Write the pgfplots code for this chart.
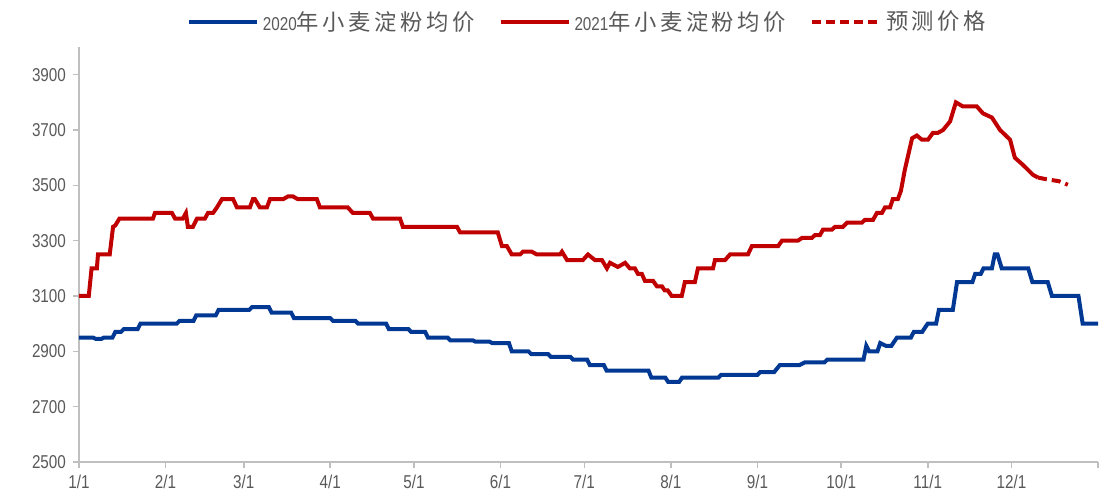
\documentclass[border=0pt]{standalone}
\usepackage{fontspec}
\setmainfont{Liberation Sans}[FakeStretch=0.82]
\newfontfamily\cjk{Noto Sans CJK SC}[Scale=1.2, LetterSpace=16]
\usepackage{pgfplots}
\pgfplotsset{compat=1.18}
\definecolor{line20}{RGB}{0,56,147}
\definecolor{line21}{RGB}{192,0,0}
\definecolor{txt}{RGB}{89,89,89}
\definecolor{axgray}{RGB}{191,191,191}

\begin{document}
\begin{tikzpicture}
\useasboundingbox (-39.5pt,-18pt) rectangle (511pt,231pt);
\begin{axis}[
    scale only axis, width=509.5pt, height=207.5pt,
    xmin=0, xmax=365, ymin=2500, ymax=4000,
    axis x line*=bottom, axis y line*=left,
    axis line style={axgray, line width=0.8pt},
    tick align=outside, major tick length=3pt,
    tick style={axgray, line width=0.8pt},
    xtick={0,31,59,90,120,151,181,212,243,273,304,334,365},
    xticklabels={1/1,2/1,3/1,4/1,5/1,6/1,7/1,8/1,9/1,10/1,11/1,12/1,},
    ytick={2500,2700,2900,3100,3300,3500,3700,3900},
    /pgf/number format/assume math mode=true,
    /pgf/number format/1000 sep={},
    ticklabel style={font=\fontsize{9.3}{10}\selectfont, text=txt},
    legend columns=3,
    legend style={at={(0.5,1.06)}, anchor=center, draw=none, fill=none,
        font=\fontsize{9.3}{10}\selectfont, text=txt,
        /tikz/every even column/.append style={column sep=10pt}},
    legend image code/.code={\draw[#1, line width=2pt] (0pt,0pt) -- (34pt,0pt);},
]
% 2020
\addplot[line20, line width=2pt] coordinates {
(0,2950) (5,2950) (6,2945) (8,2945) (9,2950) (12,2950) (13,2970) (15,2970)
(16,2980) (21,2980) (22,3000) (35,3000) (36,3010) (41,3010) (42,3030) (49,3030)
(50,3050) (61,3050) (62,3060) (68,3060) (69,3040) (76,3040) (77,3020) (90,3020)
(91,3010) (99,3010) (100,3000) (110,3000) (111,2980) (118,2980) (119,2970) (124,2970)
(125,2950) (132,2950) (133,2940) (141,2940) (142,2935) (147,2935) (148,2930) (154,2930)
(155,2900) (161,2900) (162,2890) (168,2890) (169,2880) (176,2880) (177,2870) (182,2870)
(183,2850) (188,2850) (189,2830) (204,2830) (205,2805) (210,2805) (211,2790) (215,2790)
(216,2805) (229,2805) (230,2815) (243,2815) (244,2825) (249,2825) (251,2850) (258,2850)
(260,2860) (267,2860) (268,2870) (281,2870) (282,2920) (283,2900) (286,2900) (287,2930)
(289,2920) (291,2920) (293,2950) (298,2950) (299,2970) (302,2970) (304,3000) (307,3000)
(308,3050) (313,3050) (314.5,3150) (320,3150) (321,3180) (323,3180) (324,3200) (327,3200)
(328,3250) (329,3250) (330.5,3200) (340,3200) (341.5,3150) (347,3150) (348.5,3100) (358,3100)
(359.5,3000) (365,3000)
};
\addlegendentry{2020{\cjk 年小麦淀粉均价}}
% 2021
\addplot[line21, line width=2pt] coordinates {
(0,3100) (3.5,3100) (4.5,3200) (6.4,3200) (6.8,3250) (11,3250) (12.2,3350) (13,3355)
(14.5,3380) (26.5,3380) (27.2,3400) (33.3,3400) (34.4,3380) (37.2,3380) (38.3,3400) (39,3350)
(40.8,3350) (42.3,3380) (45.1,3380) (46.2,3400) (48,3400) (49.4,3420) (51.2,3450) (55.2,3450)
(56.6,3420) (61.2,3420) (62.3,3450) (63,3450) (64.8,3420) (67.3,3420) (68.4,3450) (73.1,3450)
(74.9,3460) (76.6,3460) (78.4,3450) (85.2,3450) (86.3,3420) (96.3,3420) (98.1,3400) (104.2,3400)
(105.3,3380) (115,3380) (116,3350) (135.4,3350) (136.5,3330) (150,3330) (151.5,3280) (153.3,3280)
(155,3250) (158,3250) (159,3260) (162.2,3260) (164,3250) (172.3,3250) (173,3260) (174.8,3230)
(180.5,3230) (182.3,3250) (184.8,3230) (187.3,3230) (189.1,3200) (190.2,3220) (193,3205) (195.6,3220)
(197.3,3200) (199.1,3200) (200.2,3180) (201.6,3180) (202.7,3155) (205.6,3155) (207,3135) (208.8,3135)
(209.8,3120) (210.9,3120) (212.3,3100) (215.9,3100) (217,3150) (220.6,3150) (221.7,3200) (227.1,3200)
(227.8,3230) (231.4,3230) (233.2,3250) (239.6,3250) (241,3280) (250.4,3280) (251.8,3300) (257.5,3300)
(259,3310) (262.5,3310) (263.6,3320) (265.4,3320) (266.5,3340) (269.7,3340) (270.8,3350) (273.6,3350)
(275.1,3365) (280.4,3365) (281.5,3375) (284.4,3375) (285.8,3400) (287.6,3400) (288.7,3420) (290.5,3420)
(291.5,3450) (293.3,3450) (294.4,3480) (295.8,3556) (298.4,3670) (300.1,3680) (301.9,3665) (304.1,3665)
(305.9,3690) (307.7,3690) (309.5,3700) (312,3731) (314.1,3800) (316.6,3785) (321.6,3785) (323.8,3760)
(327,3745) (329.9,3700) (333.5,3665) (335.2,3600) (338.1,3574) (341.7,3538) (343.5,3528)
};
\addlegendentry{2021{\cjk 年小麦淀粉均价}}
% forecast
\addplot[line21, line width=2pt, dash pattern=on 4.5pt off 2.5pt] coordinates {
(343.5,3528) (346.5,3522) (351,3515) (354.2,3502)
};
\addlegendentry{{\cjk 预测价格}}
\end{axis}
\end{tikzpicture}
\end{document}
